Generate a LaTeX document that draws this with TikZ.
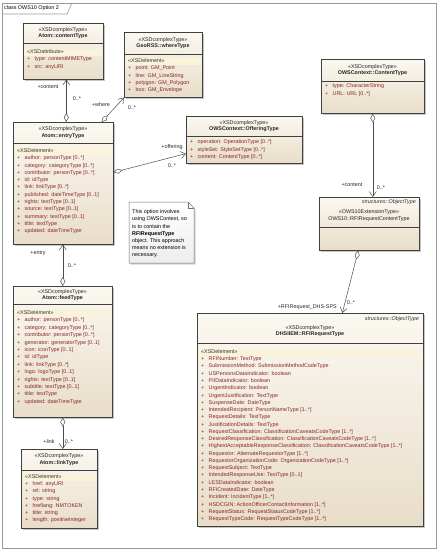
\documentclass[tikz,border=0pt]{standalone}
\usepackage{fontspec}
\setmainfont{Liberation Sans}
\usetikzlibrary{arrows.meta,shadows}

\definecolor{umltop}{HTML}{FBF8F1}
\definecolor{umlbot}{HTML}{E8DDC8}
\definecolor{attrred}{HTML}{8A2424}
\definecolor{bandyel}{HTML}{FAF2DA}
\definecolor{framegray}{HTML}{9A9A9A}

\begin{document}
\begin{tikzpicture}[
    x=1pt, y=-1pt,
    every node/.style={font=\fontsize{5.4}{6.6}\selectfont, inner sep=0pt},
    cls/.style={rectangle, draw=black!75, line width=0.6pt, top color=umltop, bottom color=umlbot,
        anchor=north west, drop shadow={shadow xshift=1.5pt, shadow yshift=-1.5pt, fill=black!45}},
    hdr/.style={align=center, text=black!85},
    stereo/.style={anchor=west, text=black!80, text height=4pt, text depth=1.2pt},
    attr/.style={anchor=west, text=attrred, text height=4pt, text depth=1.2pt},
    band/.style={fill=bandyel},
    lbl/.style={text=black!85},
    assoc/.style={draw=black!70, line width=0.5pt,
        {Diamond[open,length=9pt,width=5pt]}-{Straight Barb[length=5pt,width=7pt]}}
]
    \useasboundingbox[fill=white] (0,0) rectangle (438,554);

    % Frame
    \draw[framegray, line width=0.6pt] (2,3) rectangle (436,548);
    \draw[framegray, line width=0.6pt] (2,14) -- (67,14) -- (72,3);
    \node[anchor=west] (title) at (4,8.5) {class OWS10 Option 2};

    % Atom::contentType
    \node[cls, minimum width=80pt, minimum height=56pt] (content) at (23,23) {};
    \draw[black!75] ([yshift=-20pt]content.north west) -- ([yshift=-20pt]content.north east);
    \node[hdr] (contenth) at (63,33) {«XSDcomplexType»\\\textbf{Atom::contentType}};
    \fill[band] (24,48.5) rectangle (102,55.5);
    \node[stereo] (contents) at (27,52) {«XSDattribute»};
    \foreach \t [count=\i] in {type: contentMIMEType, src: anyURI}
        \node[attr] (content\i) at (27,{52+7.3*\i}) {\makebox[7.5pt][l]{+}\t};

    % GeoRSS::whereType
    \node[cls, minimum width=78pt, minimum height=65pt] (where) at (124,32) {};
    \draw[black!75] ([yshift=-22pt]where.north west) -- ([yshift=-22pt]where.north east);
    \node[hdr] (whereh) at (163,43) {«XSDcomplexType»\\\textbf{GeoRSS::whereType}};
    \fill[band] (125,57.5) rectangle (201,64.5);
    \node[stereo] (wheres) at (128,61) {«XSDelement»};
    \foreach \t [count=\i] in {point: GM\_Point, line: GM\_LineString, polygon: GM\_Polygon, box: GM\_Envelope}
        \node[attr] (where\i) at (128,{61+7.3*\i}) {\makebox[7.5pt][l]{+}\t};

    % Atom::entryType
    \node[cls, minimum width=100pt, minimum height=122pt] (entry) at (13,122) {};
    \draw[black!75] ([yshift=-21pt]entry.north west) -- ([yshift=-21pt]entry.north east);
    \node[hdr] (entryh) at (63,132.5) {«XSDcomplexType»\\\textbf{Atom::entryType}};
    \fill[band] (14,147.5) rectangle (112,154.5);
    \node[stereo] (entrys) at (17,151) {«XSDelement»};
    \foreach \t [count=\i] in {author: personType [0..*], category: categoryType [0..*],
        contributor: personType [0..*], id: idType, link: linkType [0..*],
        published: dateTimeType [0..1], rights: textType [0..1], source: textType [0..1],
        summary: textType [0..1], title: textType, updated: dateTimeType}
        \node[attr] (entry\i) at (17,{151+7.3*\i}) {\makebox[7.5pt][l]{+}\t};

    % OWSContext::OfferingType
    \node[cls, minimum width=116pt, minimum height=47pt] (offering) at (186,116) {};
    \draw[black!75] ([yshift=-20pt]offering.north west) -- ([yshift=-20pt]offering.north east);
    \node[hdr] (offeringh) at (244,126) {«XSDcomplexType»\\\textbf{OWSContext::OfferingType}};
    \foreach \t [count=\i] in {operation: OperationType [0..*], styleSet: StyleSetType [0..*],
        content: ContentType [0..*]}
        \node[attr] (offering\i) at (190,{135.2+7.3*\i}) {\makebox[7.5pt][l]{+}\t};

    % OWSContext::ContentType
    \node[cls, minimum width=103pt, minimum height=54pt] (ctype) at (321,59) {};
    \draw[black!75] ([yshift=-22pt]ctype.north west) -- ([yshift=-22pt]ctype.north east);
    \node[hdr] (ctypeh) at (372.5,70) {«XSDcomplexType»\\\textbf{OWSContext::ContentType}};
    \foreach \t [count=\i] in {type: CharacterString, URL: URL [0..*]}
        \node[attr] (ctype\i) at (325,{79.2+7.3*\i}) {\makebox[7.5pt][l]{+}\t};

    % OWS10::RFIRequestContentType
    \node[cls, minimum width=100pt, minimum height=53pt] (rcontent) at (319,197) {};
    \draw[black!75] ([yshift=-30pt]rcontent.north west) -- ([yshift=-30pt]rcontent.north east);
    \node[anchor=east, text=black!80] (rcontento) at (416,202.5) {\textit{structures::ObjectType}};
    \node[hdr] (rcontenth) at (369,215.5) {«OWS10ExtensionType»\\OWS10::RFIRequestContentType};

    % Note
    \draw[black!55, line width=0.5pt, top color=white, bottom color=black!7,
        drop shadow={shadow xshift=1.5pt, shadow yshift=-1.5pt, fill=black!35}]
        (129,202) -- (188,202) -- (194,208) -- (194,263) -- (129,263) -- cycle;
    \draw[black!55, line width=0.5pt] (188,202) -- (188,208) -- (194,208);
    \node[anchor=north west, align=left, font=\fontsize{5.4}{7.2}\selectfont] (note) at (132,209.5)
        {This option involves\\using OWSContext, so\\is to contain the\\\textbf{RFIRequestType}\\object. This approach\\means no extension is\\necessary.};

    % Atom::feedType
    \node[cls, minimum width=99pt, minimum height=131pt] (feed) at (13,286) {};
    \draw[black!75] ([yshift=-18pt]feed.north west) -- ([yshift=-18pt]feed.north east);
    \node[hdr] (feedh) at (62.5,295) {«XSDcomplexType»\\\textbf{Atom::feedType}};
    \fill[band] (14,309.5) rectangle (111,316.5);
    \node[stereo] (feeds) at (17,313) {«XSDelement»};
    \foreach \t [count=\i] in {author: personType [0..*], category: categoryType [0..*],
        contributor: personType [0..*], generator: generatorType [0..1], icon: iconType [0..1],
        id: idType, link: linkType [0..*], logo: logoType [0..1], rights: textType [0..1],
        subtitle: textType [0..1], title: textType, updated: dateTimeType}
        \node[attr] (feed\i) at (17,{313+7.4*\i}) {\makebox[7.5pt][l]{+}\t};

    % Atom::linkType
    \node[cls, minimum width=76pt, minimum height=79pt] (link) at (21,449) {};
    \draw[black!75] ([yshift=-21pt]link.north west) -- ([yshift=-21pt]link.north east);
    \node[hdr] (linkh) at (59,459.5) {«XSDcomplexType»\\\textbf{Atom::linkType}};
    \fill[band] (22,473.5) rectangle (96,480.5);
    \node[stereo] (links) at (25,477) {«XSDelement»};
    \foreach \t [count=\i] in {href: anyURI, rel: string, type: string, hreflang: NMTOKEN,
        title: string, length: positiveInteger}
        \node[attr] (link\i) at (25,{477+7.2*\i}) {\makebox[7.5pt][l]{+}\t};

    % DHSIIEM::RFIRequestType
    \node[cls, minimum width=226pt, minimum height=213pt] (rfi) at (197,313) {};
    \draw[black!75] ([yshift=-30pt]rfi.north west) -- ([yshift=-30pt]rfi.north east);
    \node[anchor=east, text=black!80] (rfio) at (419,319) {\textit{structures::ObjectType}};
    \node[hdr] (rfih) at (310,331) {«XSDcomplexType»\\\textbf{DHSIIEM::RFIRequestType}};
    \fill[band] (198,348.5) rectangle (422,355.5);
    \node[stereo] (rfis) at (201,352) {«XSDelement»};
    \foreach \t [count=\i] in {RFINumber: TextType, SubmissionMethod: SubmissionMethodCodeType,
        USPersonsDataIndicator: boolean, PIIDataIndicator: boolean, UrgentIndicator: boolean,
        UrgentJustification: TextType, SuspenseDate: DateType,
        IntendedRecipient: PersonNameType [1..*], RequestDetails: TextType,
        JustificationDetails: TextType,
        RequestClassification: ClassificationCaveatsCodeType [1..*],
        DesiredResponseClassification: ClassificationCaveatsCodeType [1..*],
        HighestAcceptableResponseClassification: ClassificationCaveatsCodeType [1..*],
        Requestor: AlternateRequestorType [1..*],
        RequestorOrganizationCode: OrganizationCodeType [1..*], RequestSubject: TextType,
        IntendedResponseUse: TextType [0..1], LESDataIndicator: boolean,
        RFICreatedDate: DateType, Incident: IncidentType [1..*],
        HSDCGIN: ActionOfficerContactInformation [1..*],
        RequestStatus: RequestStatusCodeType [1..*], RequestTypeCode: RequestTypeCodeType [1..*]}
        \node[attr] (rfi\i) at (201,{352+7.27*\i}) {\makebox[7.5pt][l]{+}\t};

    % Associations
    \draw[assoc] ([xshift=3pt]entry.north) -- ([xshift=3pt]content.south);
    \node[lbl] (contentr) at (48,87) {+content};
    \node[lbl] (contentm) at (77,99) {0..*};

    \draw[assoc] ([xshift=-12pt]entry.north east) -- (where.south west);
    \node[lbl] (wherer) at (101,105) {+where};
    \node[lbl] (wherem) at (132,108) {0..*};

    \draw[assoc] ([yshift=11pt]entry.east) -- ([yshift=10pt]offering.south west);
    \node[lbl] (offeringr) at (172,147) {+offering};
    \node[lbl] (offeringm) at (172,166) {0..*};

    \draw[assoc] (feed.north) -- (feed.north |- entry.south);
    \node[lbl] (entryr) at (38,253) {+entry};
    \node[lbl] (entrym) at (72,266) {0..*};

    \draw[assoc] (feed.south) -- (feed.south |- link.north);
    \node[lbl] (linkr) at (49,442) {+link};
    \node[lbl] (linkm) at (69,442) {0..*};

    \draw[assoc] (ctype.south) -- (ctype.south |- rcontent.north);
    \node[lbl] (ctyper) at (352,185) {+content};
    \node[lbl] (ctypem) at (381,188) {0..*};

    \draw[assoc] ([xshift=-11pt]rcontent.south) -- ([xshift=32pt]rfi.north);
    \node[lbl, anchor=east] (rfir) at (337,307) {+RFIRequest\_DHS-SPS};
    \node[lbl] (rfim) at (351,303) {0..*};
\end{tikzpicture}
\end{document}
